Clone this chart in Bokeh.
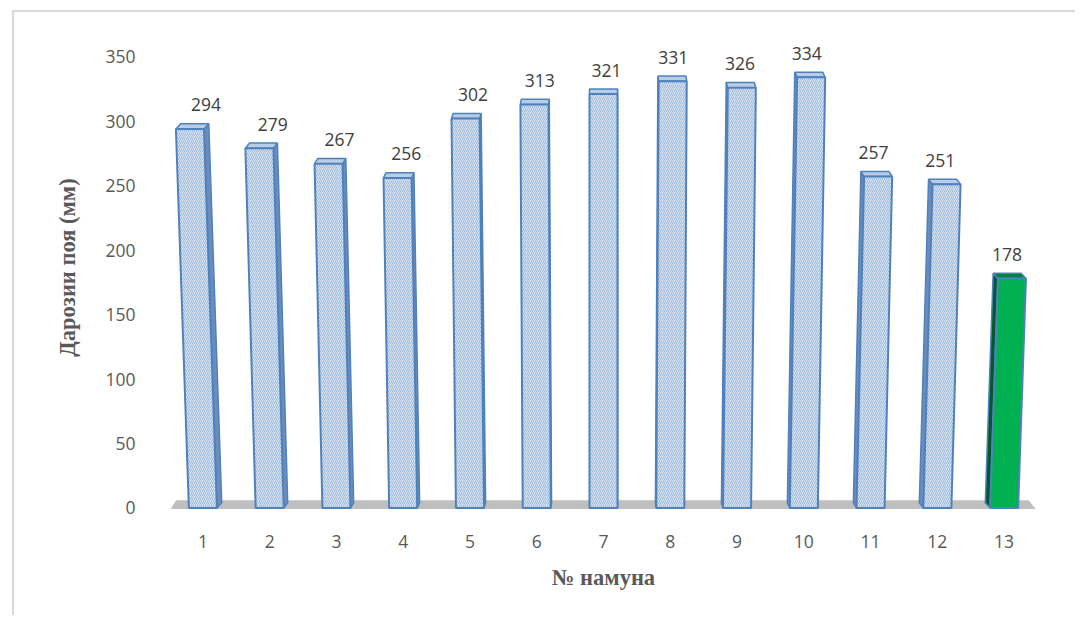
from bokeh.plotting import figure
from bokeh.models import Range1d, FixedTicker, ColumnDataSource
from bokeh.core.properties import value
from bokeh.embed import file_html
from bokeh.resources import INLINE

# ---- data ----
samples = list(range(1, 14))
stem_length = [294, 279, 267, 256, 302, 313, 321, 331, 326, 334, 257, 251, 178]
highlight = [False] * 12 + [True]
y_ticks = [0, 50, 100, 150, 200, 250, 300, 350]
x_title = "№ намуна"
y_title = "Дарозии поя (мм)"

# ---- styles ----
GRAY_TXT = "#595959"
OUTLINE = "#4f81bd"
FRONT_BLUE, SIDE_BLUE, TOP_BLUE, HATCH_BLUE = "#dce6f2", "#6b8dbd", "#b9cde5", "#8fb1dc"
FRONT_GREEN, SIDE_GREEN, TOP_GREEN = "#00b050", "#005a2c", "#00843d"

W_FRONT = 0.42      # bar front width (category units)
TILT = 0.00011      # perspective lean per category offset per unit height
DEPTH_X = 0.012     # side face visible width per category offset
DEPTH_Y = 4.0       # top face visible height (data units)
CENTER = 7

p = figure(width=1063, height=605, output_backend="svg", toolbar_location=None,
           x_range=Range1d(0.5, 13.5), y_range=Range1d(-2, 375),
           min_border_left=155, min_border_right=40, min_border_top=12,
           min_border_bottom=107)
p.styles = {"margin-left": "12px", "margin-top": "10px",
            "border-left": "2px solid #d9d9d9", "border-top": "2px solid #d9d9d9"}
p.outline_line_color = None
p.grid.grid_line_color = None
p.background_fill_color = "white"
p.border_fill_color = "white"

# floor
fl_l0, fl_r0 = samples[0] - 0.48, samples[-1] + 0.47
p.patch([fl_l0, fl_r0, fl_r0 - 0.1, fl_l0 + 0.08], [-0.8, -0.8, 6, 6],
        fill_color="#bfbfbf", line_color=None)

front_x, front_y, side_x, side_y, top_x, top_y = [], [], [], [], [], []
fc, sc, tc, hc = [], [], [], []
for x, v, hl in zip(samples, stem_length, highlight):
    L, R = x - W_FRONT / 2, x + W_FRONT / 2
    s = TILT * (x - CENTER) * v
    dx = -DEPTH_X * (x - CENTER) if x != CENTER else 0.0
    dy = DEPTH_Y
    front_x.append([L, R, R + s, L + s]); front_y.append([0, 0, v, v])
    if dx >= 0:
        side_x.append([R, R + dx, R + s + dx, R + s]); side_y.append([0, dy, v + dy, v])
    else:
        side_x.append([L, L + dx, L + s + dx, L + s]); side_y.append([0, dy, v + dy, v])
    top_x.append([L + s, R + s, R + s + dx, L + s + dx]); top_y.append([v, v, v + dy, v + dy])
    fc.append(FRONT_GREEN if hl else FRONT_BLUE)
    sc.append(SIDE_GREEN if hl else SIDE_BLUE)
    tc.append(TOP_GREEN if hl else TOP_BLUE)
    hc.append(FRONT_GREEN if hl else HATCH_BLUE)

side_src = ColumnDataSource(dict(xs=side_x, ys=side_y, c=sc))
top_src = ColumnDataSource(dict(xs=top_x, ys=top_y, c=tc))
front_src = ColumnDataSource(dict(xs=front_x, ys=front_y, c=fc, h=hc))

p.patches("xs", "ys", source=side_src, fill_color="c", line_color=OUTLINE, line_width=1.5)
p.patches("xs", "ys", source=top_src, fill_color="c", line_color=OUTLINE, line_width=1.5)
p.patches("xs", "ys", source=front_src, fill_color="c", line_color=OUTLINE, line_width=2,
          hatch_pattern="right_diagonal_line", hatch_color="h", hatch_scale=4,
          hatch_weight=1, hatch_alpha=0.9)

# data labels
lab_src = ColumnDataSource(dict(x=samples, y=stem_length, t=[str(v) for v in stem_length]))
p.text("x", "y", text="t", source=lab_src, text_align="center", text_baseline="middle",
       y_offset=-24, x_offset=3, text_font=value("Open Sans"), text_font_size="17.5px",
       text_color="#404040")

# axes
p.xaxis.ticker = FixedTicker(ticks=samples)
p.yaxis.ticker = FixedTicker(ticks=y_ticks)
for ax in (p.xaxis[0], p.yaxis[0]):
    ax.axis_line_color = None
    ax.major_tick_line_color = None
    ax.minor_tick_line_color = None
    ax.major_label_text_font = "Open Sans"
    ax.major_label_text_font_size = "17.5px"
    ax.major_label_text_color = GRAY_TXT
    ax.axis_label_text_font = "Liberation Serif"
    ax.axis_label_text_font_style = "bold"
    ax.axis_label_text_font_size = "22.5px"
    ax.axis_label_text_color = GRAY_TXT
p.xaxis.axis_label = x_title
p.yaxis.axis_label = y_title
p.xaxis.major_label_standoff = 18
p.xaxis.axis_label_standoff = 14
p.yaxis.major_label_standoff = 28
p.yaxis.axis_label_standoff = 22

open("out.html", "w").write(file_html(p, INLINE))
